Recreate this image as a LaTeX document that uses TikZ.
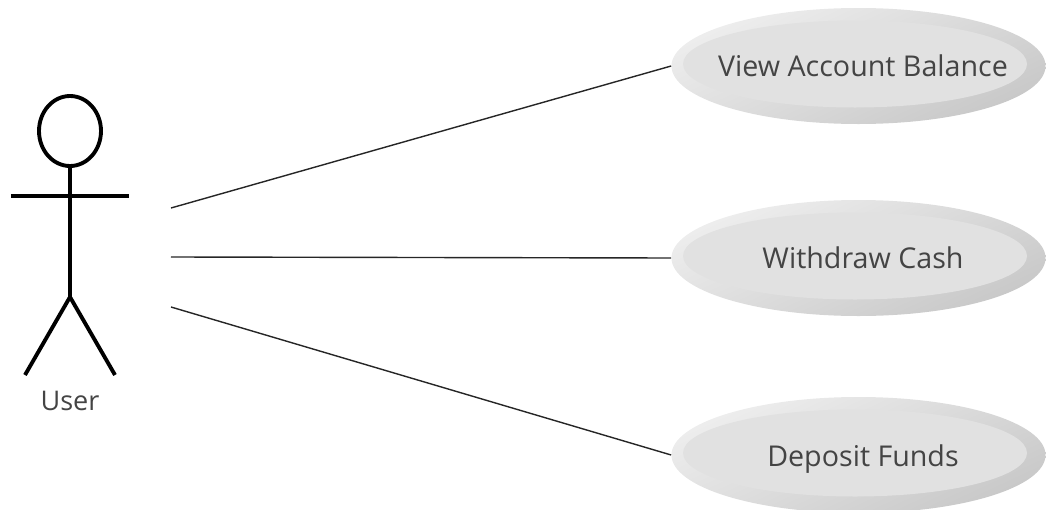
\documentclass[tikz,border=0pt]{standalone}
\usepackage{fontspec}
\setmainfont{Open Sans}
\usetikzlibrary{shapes}

\begin{document}
\begin{tikzpicture}[scale=0.2]
	\tikzstyle{every node}+=[inner sep=0pt]
	\tikzstyle{usecase rim}=[ellipse,minimum width=7.48cm,minimum height=2.32cm,shading=axis,top color=rimtop,bottom color=rimbottom,shading angle=25]
	\tikzstyle{usecase face}=[ellipse,minimum width=6.88cm,minimum height=1.74cm,fill=facegray]
	\tikzstyle{usecase text}=[text=textgray,font=\fontsize{16.3}{20}\selectfont]
	\tikzstyle{actor line}=[black,line width=2.2pt]
	\tikzstyle{assoc line}=[black!85,line width=0.8pt]
	\definecolor{rimtop}{HTML}{EEEEEE}
	\definecolor{rimbottom}{HTML}{C8C8C8}
	\definecolor{facegray}{HTML}{E1E1E1}
	\definecolor{textgray}{HTML}{444444}
	\useasboundingbox (0,0) rectangle (104.6,-51);
	% use cases
	\node [usecase rim] (balancerim) at (85.85,-6.6) {};
	\node [usecase face] (balanceface) at (85.5,-6.4) {};
	\node [usecase text] (balance) at (86.3,-6.6) {View Account Balance};
	\node [usecase rim] (withdrawrim) at (85.85,-25.8) {};
	\node [usecase face] (withdrawface) at (85.5,-25.6) {};
	\node [usecase text] (withdraw) at (86.3,-25.8) {Withdraw Cash};
	\node [usecase rim] (depositrim) at (85.85,-45.5) {};
	\node [usecase face] (depositface) at (85.5,-45.3) {};
	\node [usecase text] (deposit) at (86.3,-45.95) {Deposit Funds};
	% actor
	\node [ellipse,draw,actor line,minimum width=1.24cm,minimum height=1.4cm] (head) at (7,-13.1) {};
	\coordinate (armleft) at (1.1,-19.6);
	\coordinate (armright) at (12.9,-19.6);
	\coordinate (hip) at (7,-29.7);
	\coordinate (footleft) at (2.5,-37.5);
	\coordinate (footright) at (11.5,-37.5);
	\draw [actor line] (head.south) -- (hip);
	\draw [actor line] (armleft) -- (armright);
	\draw [actor line] (footleft) -- (hip) -- (footright);
	\node [text=textgray,font=\fontsize{15.4}{18}\selectfont] (user) at (7,-40.1) {User};
	% associations
	\coordinate (startbalance) at (17.1,-20.8);
	\coordinate (startwithdraw) at (17.1,-25.7);
	\coordinate (startdeposit) at (17.1,-30.7);
	\draw [assoc line] (startbalance) -- (balancerim.west);
	\draw [assoc line] (startwithdraw) -- (withdrawrim.west);
	\draw [assoc line] (startdeposit) -- (depositrim.west);
\end{tikzpicture}
\end{document}
